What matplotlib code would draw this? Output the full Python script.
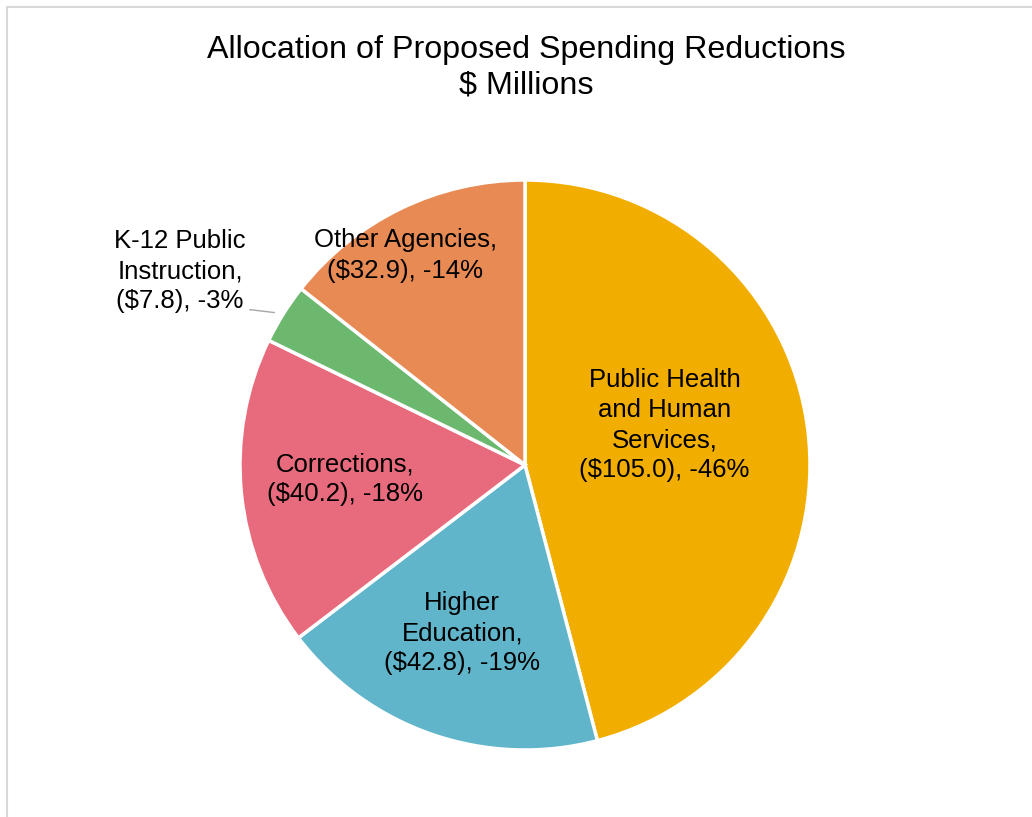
import matplotlib
matplotlib.use('Agg')
import matplotlib.pyplot as plt
from matplotlib.lines import Line2D

plt.rcParams['font.family'] = ['Liberation Sans', 'DejaVu Sans']

# data
categories = ['Public Health\nand Human\nServices,', 'Higher\nEducation,', 'Corrections,',
              'K-12 Public\nInstruction,', 'Other Agencies,']
values = [105.0, 42.8, 40.2, 7.8, 32.9]
pcts = [-46, -19, -18, -3, -14]
colors = ['#F2AE00', '#60B5CB', '#E76B7C', '#6BB86E', '#E88A54']

# label centres in pie units (radius = 1)
label_pos = [(0.49, 0.14), (-0.22, -0.59), (-0.63, -0.05), (-1.21, 0.68), (-0.42, 0.735)]

fig = plt.figure(figsize=(10.32, 8.17), dpi=100)

# light grey frame (only left and top visible in the reference)
fig.add_artist(Line2D([7/1032, 7/1032], [0, 1 - 7/817], transform=fig.transFigure, color='#D9D9D9', lw=1.5))
fig.add_artist(Line2D([7/1032, 1], [1 - 7/817, 1 - 7/817], transform=fig.transFigure, color='#D9D9D9', lw=1.5))

ax = fig.add_axes([240/1032, (817 - 465 - 285)/817, 570/1032, 570/817])
wedges, _ = ax.pie(values, colors=colors, startangle=90, counterclock=False,
                   wedgeprops=dict(edgecolor='white', linewidth=2.5))
ax.set_xlim(-1, 1)
ax.set_ylim(-1, 1)
ax.set_aspect('equal')
ax.axis('off')

for cat, v, p, pos in zip(categories, values, pcts, label_pos):
    txt = '%s\n($%.1f), %d%%' % (cat, v, p)
    ax.text(pos[0], pos[1], txt, ha='center', va='center', fontsize=18.5,
            linespacing=1.32, color='#000000', clip_on=False)

# leader line for K-12 label
ax.plot([-0.965, -0.88], [0.545, 0.535], color='#A6A6A6', lw=1, clip_on=False)

fig.text(526/1032, 1 - 68/817, 'Allocation of Proposed Spending Reductions\n$ Millions',
         ha='center', va='center', fontsize=23.2, linespacing=1.25, color='#000000')

plt.savefig('out.png', dpi=100)
plt.close()
